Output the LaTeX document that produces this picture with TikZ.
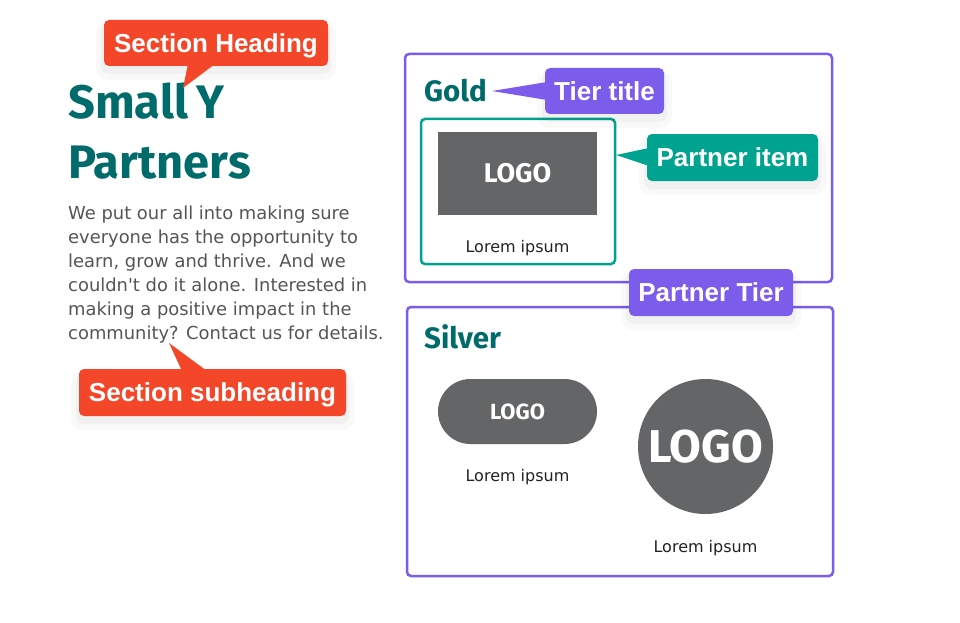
\documentclass[tikz,border=0pt]{standalone}
\usepackage{fontspec}
\setmainfont{DejaVu Sans}
\newfontfamily\headfont{Fira Sans}
\newfontfamily\labelfont{Liberation Sans}
\newfontfamily\bodyfont{DejaVu Sans}
\definecolor{tealtext}{HTML}{006B6B}
\definecolor{orangelab}{HTML}{F4472A}
\definecolor{purplelab}{HTML}{7B5CEB}
\definecolor{teallab}{HTML}{00A38F}
\definecolor{logogray}{HTML}{646567}
\definecolor{bodygray}{HTML}{555555}
\definecolor{loremtext}{HTML}{222222}
\newcommand{\labtxt}[1]{\raisebox{-9.3pt}[0pt][0pt]{#1}}
\tikzset{
  lab/.style={rounded corners=5pt, inner sep=0pt, text=white,
    font=\labelfont\bfseries\fontsize{26}{30}\selectfont},
  tierbox/.style={draw=purplelab, line width=2.5pt, rounded corners=4pt, fill=white},
  itembox/.style={draw=teallab, line width=2.5pt, rounded corners=4pt},
  logotext/.style={text=white, font=\headfont\bfseries},
  lorem/.style={text=loremtext, font=\bodyfont\fontsize{16}{18}\selectfont, inner sep=0pt},
  tiertitle/.style={text=tealtext, font=\headfont\bfseries\fontsize{29.5}{36}\selectfont, inner sep=0pt, anchor=base west},
  headline/.style={anchor=base west, inner sep=0pt, text=tealtext, font=\headfont\bfseries\fontsize{47}{58}\selectfont},
}
\begin{document}
\begin{tikzpicture}[x=1pt,y=-1pt]
\useasboundingbox[fill=white] (0,0) rectangle (960,623);

% heading
\node[headline] (h1) at (68,118) {Small\hspace{-3pt} Y};
\node[headline] (h2) at (68,178) {Partners};

% paragraph
\node[anchor=base west, inner sep=0pt, text=bodygray, align=left, font=\bodyfont\fontsize{17.9}{24}\selectfont] (para) at (68,339)
{We put our all into making sure\\everyone has the opportunity to\\learn, grow and thrive. And we\\couldn't do it alone. Interested in\\making a positive impact in the\\community? Contact us for details.};

% gold tier
\node[tierbox, minimum width=427pt, minimum height=228pt] (gold) at (618.5,168) {};
\node[tiertitle] (goldt) at (424,102) {Gold};
\node[itembox, minimum width=194pt, minimum height=145pt] (item) at (518,191.5) {};
\node[fill=logogray, minimum width=159pt, minimum height=83pt, inner sep=0pt, logotext, font=\headfont\bfseries\fontsize{27}{30}\selectfont] (logo1) at (517.5,173.5) {LOGO};
\node[lorem] (lor1) at (517.5,248) {Lorem ipsum};

% silver tier
\node[tierbox, minimum width=426pt, minimum height=269pt] (silver) at (620,441.5) {};
\node[tiertitle] (silvert) at (424,348) {Silver};
\node[fill=logogray, minimum width=159pt, minimum height=65pt, rounded corners=32.5pt, inner sep=0pt, logotext, font=\headfont\bfseries\fontsize{22}{26}\selectfont] (logo2) at (517.5,411.5) {LOGO};
\node[lorem] (lor2) at (517.5,477) {Lorem ipsum};
\node[circle, fill=logogray, minimum size=135pt, inner sep=0pt, logotext, font=\headfont\bfseries\fontsize{46}{52}\selectfont] (logo3) at (705.5,446.5) {LOGO};
\node[lorem] (lor3) at (705.5,548) {Lorem ipsum};

% labels: soft shadows
\foreach \cx/\cy/\w/\h in {216/43/224/46, 212.5/392.5/267/47, 604.5/91/119/46, 732.5/157.5/171/47, 711/292.5/164/47}{
  \fill[black, opacity=0.025, rounded corners=12pt] (\cx-\w/2-8,\cy-\h/2+2) rectangle (\cx+\w/2+8,\cy+\h/2+14);
  \fill[black, opacity=0.03, rounded corners=8pt] (\cx-\w/2-3,\cy-\h/2+4) rectangle (\cx+\w/2+3,\cy+\h/2+8);
}

% section heading label
\node[lab, fill=orangelab, minimum width=224pt, minimum height=46pt] (lsh) at (216,43) {\labtxt{Section Heading}};
\fill[orangelab] (188,64) -- (215,64) -- (183,88) -- cycle;

% section subheading label
\node[lab, fill=orangelab, minimum width=267pt, minimum height=47pt] (lss) at (212.5,392.5) {\labtxt{Section subheading}};
\fill[orangelab] (182,371) -- (207,371) -- (169,343) -- cycle;

% tier title label
\node[lab, fill=purplelab, minimum width=119pt, minimum height=46pt] (ltt) at (604.5,91) {\labtxt{Tier title}};
\fill[purplelab] (547,82) -- (547,100) -- (492,91) -- cycle;

% partner item label
\node[lab, fill=teallab, minimum width=171pt, minimum height=47pt] (lpi) at (732.5,157.5) {\labtxt{Partner item}};
\fill[teallab] (649,148) -- (649,166) -- (616,155) -- cycle;

% partner tier label
\node[lab, fill=purplelab, minimum width=164pt, minimum height=47pt] (lpt) at (711,292.5) {\labtxt{Partner Tier}};
\end{tikzpicture}
\end{document}
